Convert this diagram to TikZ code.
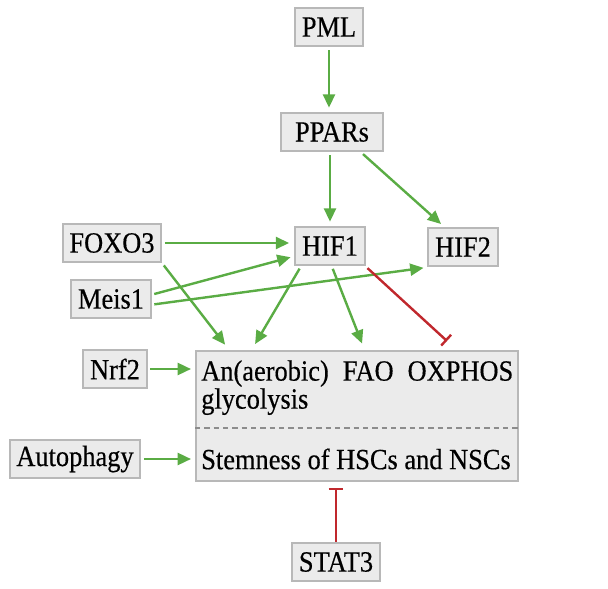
\documentclass[tikz,border=0pt]{standalone}
\usepackage{fontspec}
\setmainfont[FakeStretch=0.9, FakeBold=0.4]{Liberation Serif}
\usetikzlibrary{arrows.meta}

\definecolor{actgreen}{RGB}{90,172,68}
\definecolor{inhred}{RGB}{192,40,45}
\definecolor{boxfill}{RGB}{235,235,235}
\definecolor{boxline}{RGB}{184,184,184}
\definecolor{splitline}{RGB}{140,140,140}

\tikzset{
    gene/.style={draw=boxline, fill=boxfill, line width=1.5pt, minimum height=29pt,
        inner xsep=5pt, font=\fontsize{22}{21}\selectfont},
    txt/.style={inner sep=0pt, font=\fontsize{22}{21}\selectfont},
    act/.style={draw=actgreen, line width=1.8pt, -{Triangle[length=10pt,width=9pt]},
        shorten <=2pt, shorten >=3pt},
    inh/.style={draw=inhred, line width=1.8pt, -{Bar[width=11pt,line width=1.8pt]},
        shorten <=2pt},
}

\begin{document}
\begin{tikzpicture}[x=0.75pt, y=-0.75pt]
    \useasboundingbox (0,0) rectangle (608,589);

    \node[gene] (pml) at (329,27) {PML};
    \node[gene, minimum width=77pt] (ppar) at (332,132) {PPARs};
    \node[gene] (hif1) at (330,246) {HIF1};
    \node[gene] (hif2) at (463,247) {HIF2};
    \node[gene] (foxo) at (112,243) {FOXO3};
    \node[gene] (meis) at (111,299) {Meis1};
    \node[gene] (nrf) at (115,369) {Nrf2};
    \node[gene] (auto) at (75,459) {Autophagy};
    \node[gene] (stat) at (336,562) {STAT3};

    \node[gene, minimum width=241.5pt, minimum height=97.5pt] (cell) at (357,416) {};
    \node[txt, anchor=north west, text width=234pt, align=left] (meta) at (201,360)
        {An(aerobic)\hfill FAO\hfill OXPHOS\\glycolysis};
    \node[txt, anchor=west] (stem) at (201,459) {Stemness of HSCs and NSCs};
    \draw[splitline, line width=1.2pt, dash pattern=on 4pt off 3pt]
        (cell.west |- 0,428) -- (cell.east |- 0,428);

    \coordinate (fxin) at (230,351);
    \coordinate (glin) at (251,351);
    \coordinate (faoin) at (365,351);
    \coordinate (oxin) at (447,341);

    \draw[act] (pml) -- (pml |- ppar.north);
    \draw[act] (ppar.south -| hif1) -- (hif1);
    \draw[act] (ppar.-35) -- (hif2.133);
    \draw[act, shorten >=4pt] (foxo) -- (hif1.west |- foxo);
    \draw[act, shorten >=6pt] (foxo.south east) -- (fxin);
    \draw[act] (meis.6) -- (hif1.196);
    \draw[act] (meis.-8) -- (hif2.south west);
    \draw[act, shorten >=6pt] (hif1.215) -- (glin);
    \draw[act, shorten >=6pt] (hif1.-85) -- (faoin);
    \draw[inh] (hif1.south east) -- (oxin);
    \draw[act] (nrf) -- (cell.west |- nrf);
    \draw[act] (auto.east) -- (cell.west |- auto.east);
    \draw[inh, shorten <=0pt, shorten >=4.5pt] (stat) -- (stat |- cell.south);

\end{tikzpicture}
\end{document}
